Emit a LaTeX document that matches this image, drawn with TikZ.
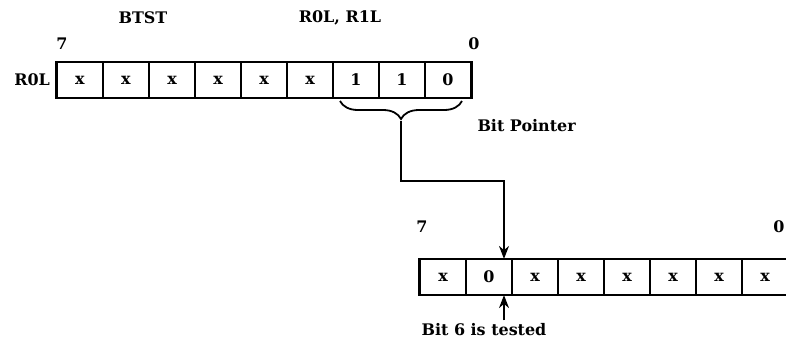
\documentclass[tikz,border=0pt]{standalone}
\usepackage{fontspec}
\setmainfont{DejaVu Serif}
\usetikzlibrary{positioning,decorations.pathreplacing,arrows.meta}

\begin{document}
\begin{tikzpicture}[x=1bp, y=-1bp,
      font=\bfseries\fontsize{16}{18}\selectfont,
      cell/.style={draw, line width=1.2bp, minimum width=46bp, minimum height=35bp, inner sep=0pt},
      frame/.style={line width=2.6bp},
      pointer/.style={line width=1.4bp, -{Stealth[length=13bp, width=10bp]}},
      brace/.style={decorate, line width=1.8bp, decoration={brace, amplitude=18bp}}
    ]
    \useasboundingbox (0,0) rectangle (786,339);

    % Source register, bit 7 on the left
    \foreach \v [count=\i] in {x,x,x,x,x,x,1,1,0} {
      \node[cell] (a\i) at ({57+46*(\i-0.5)},80) {\v};
    }
    \draw[frame] (a1.north west) rectangle (a9.south east);
    \node[left=3bp of a1] (reg) {R0L};
    \node (amsb) at (62,44) {7};
    \node (alsb) at (474,44) {0};

    % Instruction line
    \node (op) at (143,18) {BTST};
    \node (args) at (340,18) {R0L, R1L};

    % Low three bits form the pointer
    \coordinate (bl) at (340,101);
    \coordinate (br) at (462,101);
    \draw[brace] (br) -- (bl);
    \coordinate (tip) at (401,121);
    \node[anchor=west] (bp) at (474,126) {Bit Pointer};

    % Destination register
    \foreach \v [count=\i] in {x,0,x,x,x,x,x,x} {
      \node[cell] (b\i) at ({420+46*(\i-0.5)},277) {\v};
    }
    \draw[frame] (b1.north west) rectangle (b8.south east);
    \node (bmsb) at (422,227) {7};
    \node (blsb) at (779,227) {0};

    % Pointer path down to bit 6
    \coordinate (bend) at (504,181);
    \draw[pointer] (tip) |- (bend) -- (bend |- b2.north);

    \node (note) at (484,330) {Bit 6 is tested};
    \draw[pointer] (note.north -| bend) -- (bend |- b2.south);

\end{tikzpicture}
\end{document}
